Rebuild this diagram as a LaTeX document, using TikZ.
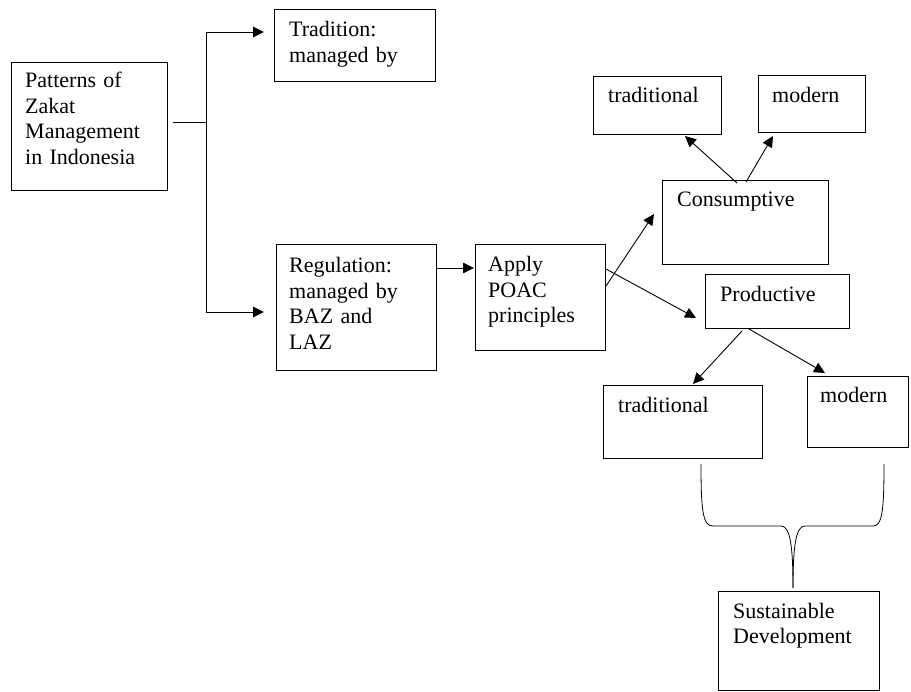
\documentclass[tikz,border=0pt]{standalone}
\usepackage{fontspec}
\setmainfont{Liberation Serif}
\usetikzlibrary{arrows.meta}
\tikzset{
  box/.style={draw, line width=0.9pt, inner sep=0pt, anchor=north west},
  lbl/.style={anchor=base west, inner sep=0pt, text width=150pt, align=left,
    font=\fontsize{22}{25.5}\selectfont},
  conn/.style={line width=0.9pt},
  arr/.style={conn, -{Triangle[length=11pt,width=10.5pt]}},
}
\begin{document}
\begin{tikzpicture}[x=1pt,y=-1pt]
\useasboundingbox (0,0) rectangle (911,692);
% boxes
\node[box, minimum width=156pt, minimum height=128pt] (pat) at (11,62) {};
\node[box, minimum width=161pt, minimum height=72pt] (tra) at (274,9) {};
\node[box, minimum width=160pt, minimum height=126pt] (reg) at (276,244) {};
\node[box, minimum width=130pt, minimum height=106pt] (app) at (475,244) {};
\node[box, minimum width=128pt, minimum height=58pt] (ttop) at (593,76) {};
\node[box, minimum width=107pt, minimum height=57pt] (mtop) at (758,75) {};
\node[box, minimum width=166pt, minimum height=84pt] (con) at (662,180) {};
\node[box, minimum width=144pt, minimum height=54pt] (pro) at (705,274) {};
\node[box, minimum width=159pt, minimum height=73pt] (tbot) at (603,385) {};
\node[box, minimum width=101pt, minimum height=71pt] (mbot) at (807,376) {};
\node[box, minimum width=161pt, minimum height=99pt] (sus) at (718,591) {};
% labels
\node[lbl] (patl) at (25,88) {Patterns of\\Zakat\\Management\\in Indonesia};
\node[lbl] (tral) at (289,37) {Tradition:\\managed by};
\node[lbl] (regl) at (289,273) {Regulation:\\managed by\\BAZ and\\LAZ};
\node[lbl] (appl) at (488,272) {Apply\\POAC\\principles};
\node[lbl] (ttopl) at (608,103) {traditional};
\node[lbl] (mtopl) at (772,103) {modern};
\node[lbl] (conl) at (677,207) {Consumptive};
\node[lbl] (prol) at (720,302) {Productive};
\node[lbl] (tbotl) at (618,413) {traditional};
\node[lbl] (mbotl) at (820,403) {modern};
\node[lbl] (susl) at (733,618) {Sustainable\\Development};
% connector coordinates
\coordinate (j0) at (173,122);
\coordinate (j) at (206,122);
\coordinate (t1) at (264,32);
\coordinate (t2) at (264,312);
\coordinate (a1) at (436,268);
\coordinate (a2) at (474,268);
\coordinate (c1s) at (737,183);
\coordinate (c1e) at (685,136);
\coordinate (c2s) at (746,182);
\coordinate (c2e) at (773,136);
\coordinate (p1s) at (606,286);
\coordinate (p1e) at (654,214);
\coordinate (p2s) at (606,269);
\coordinate (p2e) at (696,318);
\coordinate (q1s) at (742,331);
\coordinate (q1e) at (693,384);
\coordinate (q2s) at (749,329);
\coordinate (q2e) at (825,373);
% connectors
\draw[conn] (j0) -- (j);
\draw[arr] (j) |- (t1);
\draw[arr] (j) |- (t2);
\draw[arr] (a1) -- (a2);
\draw[arr] (c1s) -- (c1e);
\draw[arr] (c2s) -- (c2e);
\draw[arr] (p1s) -- (p1e);
\draw[arr] (p2s) -- (p2e);
\draw[arr] (q1s) -- (q1e);
\draw[arr] (q2s) -- (q2e);
% brace
\coordinate (bl) at (701,464);
\coordinate (br) at (884,464);
\coordinate (bt) at (793,588);
\draw[line width=0.8pt] (bl) .. controls (701,512) and (703,526) .. (713,526)
  -- (781,526) .. controls (790,526) and (793,545) .. (bt);
\draw[line width=0.8pt] (br) .. controls (884,512) and (882,526) .. (873,526)
  -- (805,526) .. controls (796,526) and (793,545) .. (bt);
\end{tikzpicture}
\end{document}
